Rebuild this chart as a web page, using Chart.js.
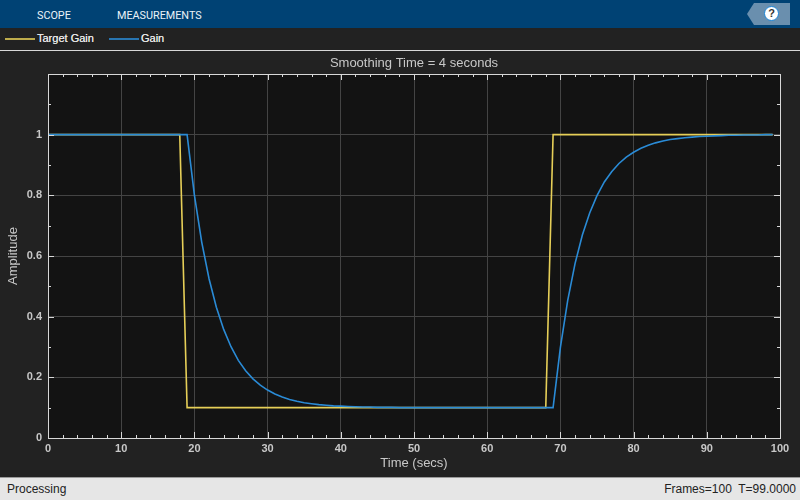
<!DOCTYPE html>
<html>
<head>
<meta charset="utf-8">
<style>
  html, body { margin: 0; padding: 0; width: 800px; height: 500px; overflow: hidden; background: #222222; font-family: "Liberation Sans", Arial, sans-serif; }
  #toolbar { position: absolute; left: 0; top: 0; width: 800px; height: 28px; background: #004274; color: #eaf2f8; font-family: Roboto, sans-serif; font-size: 10.8px; }
  #toolbar span { position: absolute; top: 9px; }
  #help { position: absolute; left: 747px; top: 3px; width: 43px; height: 22px; background: #6a8fae; clip-path: polygon(7px 0, 100% 0, 100% 100%, 7px 100%, 0 50%); }
  #helpDot { position: absolute; left: 764px; top: 6px; width: 15px; height: 15px; border-radius: 50%; background: #fff; border: 1px solid #1c86d8; box-sizing: border-box; color: #333; font-size: 11px; font-weight: bold; text-align: center; line-height: 13px; }
  #legend { position: absolute; left: 0; top: 28px; width: 800px; height: 22px; border-bottom: 1px solid #d8d8d8; color: #e6e6e6; font-size: 11px; text-shadow: 0 0 0.5px #e6e6e6; }
  #legend i { position: absolute; top: 10px; width: 30px; height: 0; border-top: 2px solid; opacity: 0.8; }
  #legend span { position: absolute; top: 4px; }
  #status { position: absolute; left: 0; top: 477px; width: 800px; height: 23px; background: #e6e6e6; border-top: 1px solid #9a9a9a; box-sizing: border-box; color: #222; font-size: 12px; }
  #status span { position: absolute; top: 4px; }
  canvas { position: absolute; left: 0; top: 52px; }
</style>
</head>
<body>
<div id="toolbar"><span style="left:37px">SCOPE</span><span style="left:117px">MEASUREMENTS</span></div>
<div id="help"></div><div id="helpDot">?</div>
<div id="legend"></div>
<canvas id="chart" width="800" height="426"></canvas>
<div id="status"><span style="left:7px">Processing</span><span style="right:4px">Frames=100&nbsp; T=99.0000</span></div>
<script src="https://cdn.jsdelivr.net/npm/chart.js@4"></script>
<script>
const chartTitle = 'Smoothing Time = 4 seconds';
const xTitle = 'Time (secs)';
const yTitle = 'Amplitude';
const seriesNames = ['Target Gain', 'Gain'];
const seriesColors = ['#e6cf58', '#2a8bd6'];

const times = [0,1,2,3,4,5,6,7,8,9,10,11,12,13,14,15,16,17,18,19,
  20,21,22,23,24,25,26,27,28,29,30,31,32,33,34,35,36,37,38,39,
  40,41,42,43,44,45,46,47,48,49,50,51,52,53,54,55,56,57,58,59,
  60,61,62,63,64,65,66,67,68,69,70,71,72,73,74,75,76,77,78,79,
  80,81,82,83,84,85,86,87,88,89,90,91,92,93,94,95,96,97,98,99];

const targetGain = [1,1,1,1,1,1,1,1,1,1,1,1,1,1,1,1,1,1,1,0.1,
  0.1,0.1,0.1,0.1,0.1,0.1,0.1,0.1,0.1,0.1,0.1,0.1,0.1,0.1,0.1,0.1,0.1,0.1,0.1,0.1,
  0.1,0.1,0.1,0.1,0.1,0.1,0.1,0.1,0.1,0.1,0.1,0.1,0.1,0.1,0.1,0.1,0.1,0.1,0.1,0.1,
  0.1,0.1,0.1,0.1,0.1,0.1,0.1,0.1,0.1,1,1,1,1,1,1,1,1,1,1,1,
  1,1,1,1,1,1,1,1,1,1,1,1,1,1,1,1,1,1,1,1];

const gain = [1,1,1,1,1,1,1,1,1,1,1,1,1,1,1,1,1,1,1,1,
  0.801,0.646,0.525,0.431,0.358,0.301,0.256,0.222,0.195,0.174,0.158,0.145,0.135,0.127,0.121,0.116,0.113,0.11,0.108,0.106,
  0.105,0.104,0.103,0.102,0.102,0.101,0.101,0.101,0.1,0.1,0.1,0.1,0.1,0.1,0.1,0.1,0.1,0.1,0.1,0.1,
  0.1,0.1,0.1,0.1,0.1,0.1,0.1,0.1,0.1,0.1,
  0.299,0.454,0.575,0.669,0.742,0.799,0.844,0.878,0.905,0.926,0.942,0.955,0.965,0.973,0.979,0.984,0.987,0.99,0.992,0.994,
  0.995,0.996,0.997,0.998,0.998,0.999,0.999,0.999,1,1];

const xMinorTicks = [2,4,6,8,12,14,16,18,22,24,26,28,32,34,36,38,42,44,46,48,52,54,56,58,62,64,66,68,72,74,76,78,82,84,86,88,92,94,96,98];
const xMajorTicks = [0,10,20,30,40,50,60,70,80,90,100];
const yMinorTicks = [0.1,0.3,0.5,0.7,0.9,1.1];
const yMajorTicks = [0,0.2,0.4,0.6,0.8,1];

// html legend, same names and colours as the datasets
document.getElementById('legend').innerHTML =
  `<i style="left:5px;color:${seriesColors[0]}"></i><span style="left:37px">${seriesNames[0]}</span>` +
  `<i style="left:109px;color:${seriesColors[1]}"></i><span style="left:141px">${seriesNames[1]}</span>`;

// axes box and the small inward ticks
const scopeBox = {
  id: 'scopeBox',
  afterDatasetsDraw(chart) {
    const { ctx, chartArea: a, scales: { x, y } } = chart;
    ctx.save();
    ctx.strokeStyle = '#d8d8d8';
    ctx.lineWidth = 1;
    ctx.beginPath();
    const tickX = (v, len) => {
      const p = Math.round(x.getPixelForValue(v)) + 0.5;
      ctx.moveTo(p, a.top); ctx.lineTo(p, a.top + len);
      ctx.moveTo(p, a.bottom); ctx.lineTo(p, a.bottom - len);
    };
    const tickY = (v, len) => {
      const p = Math.round(y.getPixelForValue(v)) + 0.5;
      ctx.moveTo(a.left, p); ctx.lineTo(a.left + len, p);
      ctx.moveTo(a.right, p); ctx.lineTo(a.right - len, p);
    };
    xMinorTicks.forEach(v => tickX(v, 3));
    xMajorTicks.forEach(v => tickX(v, 6));
    yMinorTicks.forEach(v => tickY(v, 3));
    yMajorTicks.forEach(v => tickY(v, 6));
    ctx.stroke();
    ctx.strokeRect(a.left + 0.5, a.top + 0.5, a.right - a.left, a.bottom - a.top);
    ctx.restore();
  }
};

const plotFill = {
  id: 'plotFill',
  beforeDraw(chart) {
    const { ctx, chartArea: a } = chart;
    ctx.save();
    ctx.fillStyle = '#131313';
    ctx.fillRect(a.left, a.top, a.right - a.left, a.bottom - a.top);
    ctx.restore();
  }
};

new Chart(document.getElementById('chart').getContext('2d'), {
  type: 'line',
  data: {
    labels: times,
    datasets: [
      { label: seriesNames[0], data: times.map((t, i) => ({ x: t, y: targetGain[i] })), borderColor: seriesColors[0], borderWidth: 1.6, pointRadius: 0, tension: 0, order: 1 },
      { label: seriesNames[1], data: times.map((t, i) => ({ x: t, y: gain[i] })), borderColor: seriesColors[1], borderWidth: 1.6, pointRadius: 0, tension: 0, order: 0 }
    ]
  },
  options: {
    responsive: false,
    animation: false,
    layout: { padding: { left: 0, right: 20, top: 0, bottom: 0 } },
    plugins: {
      legend: { display: false },
      tooltip: { enabled: false },
      title: { display: true, fullSize: false, text: chartTitle, color: '#c8c8c8', font: { family: 'Liberation Sans', size: 13, weight: 'normal' }, padding: { top: 3.4, bottom: 3 } }
    },
    scales: {
      x: {
        type: 'linear', min: 0, max: 100,
        afterBuildTicks(s) { s.ticks = xMajorTicks.map(v => ({ value: v })); },
        afterFit(s) { s.height = 40; },
        grid: { color: '#444444', lineWidth: 1, drawTicks: false },
        border: { display: false },
        ticks: { color: '#c8c8c8', font: { family: 'Liberation Sans', size: 11, weight: 'bold' }, padding: 4, maxRotation: 0 },
        title: { display: true, text: xTitle, color: '#c8c8c8', font: { family: 'Liberation Sans', size: 13 }, padding: { top: 0, bottom: 7 } }
      },
      y: {
        type: 'linear', min: 0, max: 1.2,
        afterBuildTicks(s) { s.ticks = yMajorTicks.map(v => ({ value: v })); },
        afterFit(s) { s.width = 48; },
        grid: { color: '#444444', lineWidth: 1, drawTicks: false },
        border: { display: false },
        ticks: { color: '#c8c8c8', font: { family: 'Liberation Sans', size: 11, weight: 'bold' }, padding: 6, callback: v => String(v) },
        title: { display: true, text: yTitle, color: '#c8c8c8', font: { family: 'Liberation Sans', size: 13 }, padding: { top: 6, bottom: 0 } }
      }
    }
  },
  plugins: [plotFill, scopeBox]
});
</script>
</body>
</html>
